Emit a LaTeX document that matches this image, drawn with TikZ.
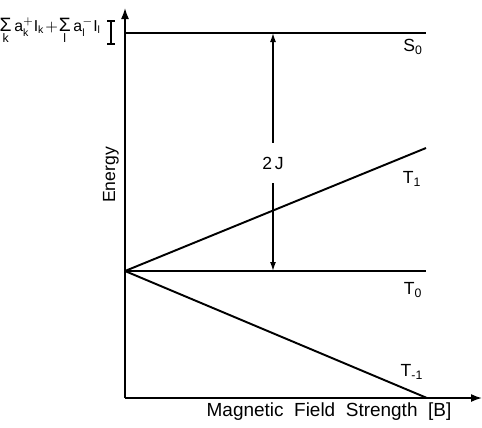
\documentclass[tikz,border=0pt]{standalone}
\usepackage{fontspec}
\setmainfont{Liberation Sans}
\usepackage{tikz}
\usetikzlibrary{arrows.meta,positioning}
\newcommand{\sumover}[1]{\mathop{\hbox{\fontsize{11}{12}\selectfont Σ}}\limits_{\hbox{\scriptsize #1}}}

\begin{document}
\begin{tikzpicture}[
  x=0.02cm, y=-0.02cm,
  axis/.style={line width=0.9pt, -{Latex[length=2.2mm, width=1.6mm]}},
  level/.style={line width=1.1pt},
  gap/.style={{Latex[length=1.8mm, width=1.2mm]}-{Latex[length=1.8mm, width=1.2mm]}, line width=0.8pt},
  lvllabel/.style={font=\fontsize{10}{12}\selectfont, inner sep=1pt}
]
\useasboundingbox (0,0) rectangle (482,427);
% axes
\coordinate (origin) at (125,398);
\coordinate (ytop) at (125,8);
\coordinate (xend) at (482,398);
\draw[axis] (origin) -- (ytop);
\draw[axis] (origin) -- (xend);
% levels
\coordinate (zero) at (125,271);
\coordinate (s0l) at (125,33);
\coordinate (s0r) at (426,33);
\coordinate (t1r) at (426,148);
\coordinate (t0r) at (426,271);
\coordinate (tmr) at (427,398);
\draw[level] (s0l) -- (s0r);
\draw[level] (zero) -- (t1r);
\draw[level] (zero) -- (t0r);
\draw[level] (zero) -- (tmr);
\node[lvllabel] (s0) at (413,47) {S\textsubscript{0}};
\node[lvllabel] (t1) at (412,179) {T\textsubscript{1}};
\node[lvllabel] (t0) at (413,290) {T\textsubscript{0}};
\node[lvllabel] (tm) at (412,372) {T\textsubscript{-1}};
% exchange splitting
\coordinate (ja) at (273,33);
\coordinate (jb) at (273,271);
\draw[gap] (ja) -- (jb);
\node[lvllabel, fill=white, inner ysep=8pt] (jlabel) at (273,163) {2\,J};
% axis labels
\node[lvllabel, rotate=90] (energy) at (111,175) {Energy};
\node[lvllabel, font=\fontsize{10.8}{12}\selectfont] (field) at (329,412)
  {Magnetic\ \ Field\ \ Strength\ \ [B]};
\node[lvllabel, anchor=base east, font=\fontsize{9}{11}\selectfont] (sum) at (103,31)
  {$\sumover{k}\mathrm{a}_{\mathrm{k}}^{+}\mathrm{I}_{\mathrm{k}}
    \!+\!\sumover{l}\mathrm{a}_{\mathrm{l}}^{-}\mathrm{I}_{\mathrm{l}}$};
% width bar
\draw[line width=0.8pt] (107,21) -- (115,21) (111,21) -- (111,44) (107,44) -- (115,44);
\end{tikzpicture}
\end{document}
